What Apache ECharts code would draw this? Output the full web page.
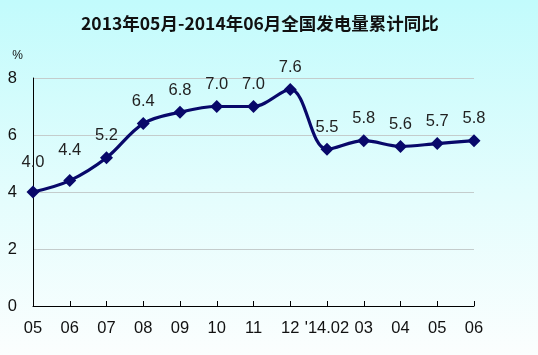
<!DOCTYPE html>
<html><head><meta charset="utf-8">
<script src="https://cdn.jsdelivr.net/npm/echarts@6/dist/echarts.min.js"></script>
<style>html,body{margin:0;padding:0;background:#fff}#c{width:538px;height:355px}</style>
</head><body><div id="c"></div>
<script>
var titleText = '2013年05月-2014年06月全国发电量累计同比';
var categories = ['05','06','07','08','09','10','11','12',"'14.02",'03','04','05','06'];
var values = [4.0, 4.4, 5.2, 6.4, 6.8, 7.0, 7.0, 7.6, 5.5, 5.8, 5.6, 5.7, 5.8];
var yTicks = [0, 2, 4, 6, 8];
var unit = '%';

var seriesData = values.map(function(v, i){
  var d = {value: v};
  if (i < 2) d.label = {distance: 15};
  return d;
});

var chart = echarts.init(document.getElementById('c'), null, {renderer:'canvas'});
chart.setOption({
  backgroundColor: new echarts.graphic.LinearGradient(0,0,0,1,[
    {offset:0,color:'#c2fbfc'},{offset:0.55,color:'#e4fdfd'},{offset:1,color:'#fbfefe'}]),
  animation:false,
  title:{text:titleText,left:76,top:10,
    textStyle:{fontFamily:'"Noto Sans CJK SC", sans-serif',fontSize:17.5,fontWeight:'bold',color:'#111'}},
  grid:{left:33,right:64,top:78,bottom:49,containLabel:false},
  xAxis:{type:'category',data:categories,boundaryGap:false,
    axisLine:{lineStyle:{color:'#000',width:1}},
    axisTick:{inside:true,length:5,lineStyle:{color:'#000'}},
    axisLabel:{color:'#111',fontSize:16.5,fontFamily:'Arial, "Liberation Sans", sans-serif',margin:14,interval:0},
    splitLine:{show:false}},
  yAxis:{type:'value',min:yTicks[0],max:yTicks[yTicks.length-1],interval:2,
    name:unit,nameLocation:'end',nameGap:16,
    nameTextStyle:{color:'#111',fontSize:12,align:'right',padding:[0,10,0,0]},
    axisLine:{show:true,lineStyle:{color:'#000'}},
    axisTick:{show:false},
    axisLabel:{color:'#111',fontSize:16.5,fontFamily:'Arial, "Liberation Sans", sans-serif',margin:16},
    splitLine:{lineStyle:{color:'#c4cccc',width:1}}},
  series:[{type:'line',data:seriesData,smooth:0.35,
    symbol:'diamond',symbolSize:13,
    lineStyle:{color:'#08086a',width:3.2},
    itemStyle:{color:'#08086a'},
    label:{show:true,position:'top',distance:7,color:'#222',fontSize:16.5,
      fontFamily:'Arial, "Liberation Sans", sans-serif',
      formatter:function(p){return p.value.toFixed(1);}}}]
});
</script></body></html>
